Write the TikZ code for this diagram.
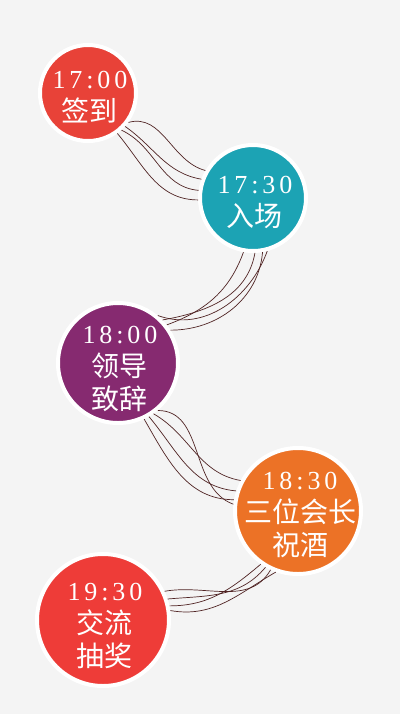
\documentclass[tikz,border=0pt]{standalone}
\usepackage{fontspec}
\usepackage{tikz}
\newfontfamily\cjk{Noto Sans CJK SC}
\newfontfamily\timefont[LetterSpace=15]{Liberation Serif}
\definecolor{bgray}{RGB}{244,244,244}
\definecolor{myred}{RGB}{232,66,56}
\definecolor{myteal}{RGB}{28,163,180}
\definecolor{mypurple}{RGB}{134,42,112}
\definecolor{myorange}{RGB}{236,114,38}
\definecolor{myredb}{RGB}{238,60,56}
\definecolor{threadbrown}{RGB}{80,36,36}
\newcommand{\clocktime}[1]{{\timefont\fontsize{13}{16.5}\selectfont #1}}
\tikzset{
		stage/.style = 	{circle, draw=white, line width=2pt, inner sep=0pt},
		caption/.style = 	{text=white, align=center, font=\cjk\fontsize{14}{16.5}\selectfont},
		thread/.style=	{line width=0.35pt, color=threadbrown},
		x=0.5pt, y=0.5pt
}
\begin{document}
\begin{tikzpicture}
  \fill[bgray] (0,0) rectangle (400,-714);
  \useasboundingbox (0,0) rectangle (400,-714);

  \node [stage, fill=myred, minimum size=48pt]    (s1) at (88,-93)  {};
  \node [stage, fill=myteal, minimum size=53pt]   (s2) at (253,-198) {};
  \node [stage, fill=mypurple, minimum size=60pt] (s3) at (118,-363) {};
  \node [stage, fill=myorange, minimum size=63pt] (s4) at (298,-511) {};
  \node [stage, fill=myredb, minimum size=66pt]   (s5) at (103,-620) {};

  \node [caption] (c1) at ([xshift=1pt,yshift=-2pt]s1) {\clocktime{17:00}\\签到};
  \node [caption] (c2) at ([xshift=1pt,yshift=-2pt]s2) {\clocktime{17:30}\\入场};
  \node [caption] (c3) at ([xshift=1pt,yshift=-3pt]s3) {\clocktime{18:00}\\领导\\致辞};
  \node [caption] (c4) at ([xshift=1pt,yshift=-2pt]s4) {\clocktime{18:30}\\三位会长\\祝酒};
  \node [caption] (c5) at ([xshift=1pt,yshift=-3pt]s5) {\clocktime{19:30}\\交流\\抽奖};

  \foreach \a/\o/\i/\b in {-36/15/165/150, -42/-35/170/160, -48/-25/175/172, -54/-50/180/182}
    \draw [thread] (s1.\a) to[out=\o,in=\i] (s2.\b);
  \foreach \a/\o/\i/\b in {-100/-110/20/38, -88/-100/10/44, -80/-95/0/32, -75/-110/-20/50}
    \draw [thread] (s2.\a) to[out=\o,in=\i] (s3.\b);
  \foreach \a/\o/\i/\b in {-55/-30/170/152, -60/-50/175/162, -65/-60/180/170, -50/0/160/174}
    \draw [thread] (s3.\a) to[out=\o,in=\i] (s4.\b);
  \foreach \a/\o/\i/\b in {-115/-120/10/25, -120/-130/5/18, -125/-140/0/12, -110/-150/-10/8}
    \draw [thread] (s4.\a) to[out=\o,in=\i] (s5.\b);

\end{tikzpicture}
\end{document}
